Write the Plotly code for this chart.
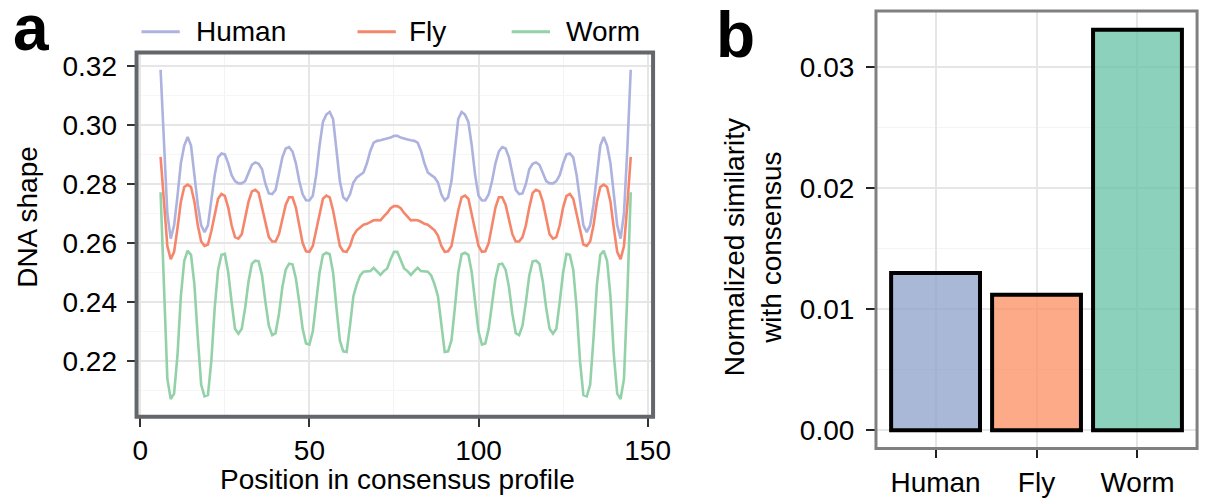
import plotly.graph_objects as go

W, H = 1219, 498

# ---------------- data ----------------
positions = list(range(6, 146))

human = [0.3187, 0.292, 0.270, 0.2615, 0.266, 0.276, 0.287, 0.293, 0.2959, 0.293,
         0.284, 0.273, 0.266, 0.2637, 0.266, 0.274, 0.283, 0.289, 0.2903, 0.2900,
         0.287, 0.283, 0.281, 0.2802, 0.2802, 0.281, 0.284, 0.2865, 0.2873, 0.2868,
         0.285, 0.280, 0.2768, 0.2766, 0.278, 0.283, 0.289, 0.292, 0.2925, 0.291,
         0.287, 0.281, 0.2765, 0.2745, 0.2744, 0.276, 0.283, 0.293, 0.301, 0.3035,
         0.3044, 0.302, 0.292, 0.281, 0.2755, 0.2744, 0.2765, 0.2805, 0.2822, 0.283,
         0.2839, 0.287, 0.2912, 0.2940, 0.2946, 0.2948, 0.2951, 0.2953, 0.2957, 0.2963,
         0.2963, 0.2957, 0.2953, 0.2951, 0.2948, 0.2946, 0.2940, 0.2912, 0.287, 0.2839,
         0.283, 0.2822, 0.2805, 0.2765, 0.2744, 0.2755, 0.281, 0.292, 0.302, 0.3044,
         0.3035, 0.301, 0.293, 0.283, 0.276, 0.2744, 0.2745, 0.2765, 0.281, 0.287,
         0.291, 0.2925, 0.292, 0.289, 0.283, 0.278, 0.2766, 0.2768, 0.280, 0.285,
         0.2868, 0.2873, 0.2865, 0.284, 0.281, 0.2802, 0.2802, 0.281, 0.283, 0.287,
         0.2900, 0.2903, 0.289, 0.283, 0.274, 0.266, 0.2637, 0.266, 0.273, 0.284,
         0.293, 0.2959, 0.293, 0.287, 0.276, 0.266, 0.2615, 0.270, 0.292, 0.3187]

fly = [0.2892, 0.273, 0.259, 0.2545, 0.257, 0.265, 0.274, 0.279, 0.2798, 0.279,
       0.274, 0.266, 0.2605, 0.2590, 0.2595, 0.264, 0.270, 0.275, 0.2766, 0.2760,
       0.272, 0.266, 0.262, 0.2615, 0.263, 0.268, 0.274, 0.2775, 0.2780, 0.277,
       0.272, 0.266, 0.262, 0.2605, 0.2605, 0.263, 0.268, 0.273, 0.2755, 0.2755,
       0.272, 0.266, 0.260, 0.2572, 0.2570, 0.259, 0.264, 0.270, 0.275, 0.2761,
       0.2755, 0.271, 0.265, 0.259, 0.2572, 0.2570, 0.259, 0.2625, 0.2643, 0.2652,
       0.2662, 0.2665, 0.2672, 0.2677, 0.2678, 0.2677, 0.2690, 0.2702, 0.2718, 0.2725,
       0.2725, 0.2718, 0.2702, 0.2690, 0.2677, 0.2678, 0.2677, 0.2672, 0.2665, 0.2662,
       0.2652, 0.2643, 0.2625, 0.259, 0.2570, 0.2572, 0.259, 0.265, 0.271, 0.2755,
       0.2761, 0.275, 0.270, 0.264, 0.259, 0.2570, 0.2572, 0.260, 0.266, 0.272,
       0.2755, 0.2755, 0.273, 0.268, 0.263, 0.2605, 0.2605, 0.262, 0.266, 0.272,
       0.277, 0.2780, 0.2775, 0.274, 0.268, 0.263, 0.2615, 0.262, 0.266, 0.272,
       0.2760, 0.2766, 0.275, 0.270, 0.264, 0.2595, 0.2590, 0.2605, 0.266, 0.274,
       0.279, 0.2798, 0.279, 0.274, 0.265, 0.257, 0.2545, 0.259, 0.273, 0.2892]

worm = [0.2772, 0.243, 0.214, 0.2072, 0.209, 0.222, 0.242, 0.254, 0.2574, 0.256,
        0.246, 0.228, 0.212, 0.2081, 0.2085, 0.220, 0.238, 0.251, 0.2560, 0.2563,
        0.250, 0.240, 0.231, 0.2293, 0.231, 0.238, 0.247, 0.2530, 0.2540, 0.2538,
        0.249, 0.240, 0.232, 0.2288, 0.2295, 0.236, 0.245, 0.251, 0.2530, 0.2528,
        0.248, 0.240, 0.231, 0.2260, 0.2256, 0.230, 0.240, 0.250, 0.2560, 0.2567,
        0.2562, 0.250, 0.238, 0.227, 0.2233, 0.2231, 0.232, 0.242, 0.2460, 0.2490,
        0.2503, 0.2503, 0.2505, 0.2516, 0.2505, 0.2492, 0.2505, 0.2514, 0.2545, 0.2570,
        0.2570, 0.2545, 0.2514, 0.2505, 0.2492, 0.2505, 0.2516, 0.2505, 0.2503, 0.2503,
        0.2490, 0.2460, 0.242, 0.232, 0.2231, 0.2233, 0.227, 0.238, 0.250, 0.2562,
        0.2567, 0.2560, 0.250, 0.240, 0.230, 0.2256, 0.2260, 0.231, 0.240, 0.248,
        0.2528, 0.2530, 0.251, 0.245, 0.236, 0.2295, 0.2288, 0.232, 0.240, 0.249,
        0.2538, 0.2540, 0.2530, 0.247, 0.238, 0.231, 0.2293, 0.231, 0.240, 0.250,
        0.2563, 0.2560, 0.251, 0.238, 0.220, 0.2085, 0.2081, 0.212, 0.228, 0.246,
        0.256, 0.2574, 0.254, 0.242, 0.222, 0.209, 0.2072, 0.214, 0.243, 0.2772]

species = ["Human", "Fly", "Worm"]
similarity = [0.0130, 0.0112, 0.0331]

x_ticks_a = [0, 50, 100, 150]
y_ticks_a = [0.22, 0.24, 0.26, 0.28, 0.30, 0.32]
y_ticks_b = [0.00, 0.01, 0.02, 0.03]

# ---------------- style ----------------
FONT = "Liberation Sans, Arial, Helvetica, sans-serif"
line_colors = ["#adb2de", "#f5866b", "#93d1a8"]
bar_colors = ["rgba(141,160,203,0.75)", "rgba(252,141,98,0.75)", "rgba(102,194,165,0.75)"]

def px_x(p):
    return p / W

def px_y(p):
    return 1 - p / H

fig = go.Figure()

for name, vals, col in zip(species, [human, fly, worm], line_colors):
    fig.add_trace(go.Scatter(x=positions, y=vals, mode="lines", name=name,
                             line=dict(color=col, width=2.6),
                             xaxis="x", yaxis="y", showlegend=False))

fig.add_trace(go.Bar(x=species, y=similarity, width=0.88,
                     marker=dict(color=bar_colors, line=dict(color="black", width=4)),
                     xaxis="x2", yaxis="y2", showlegend=False))

tickfont = dict(family=FONT, size=28, color="black")

fig.update_layout(
    width=W, height=H, autosize=False,
    margin=dict(l=0, r=0, t=0, b=0),
    paper_bgcolor="white", plot_bgcolor="white",
    font=dict(family=FONT, size=28, color="black"),
    xaxis=dict(domain=[px_x(135), px_x(661)], range=[-1.1, 151.6],
               tickvals=x_ticks_a, ticktext=[str(v) for v in x_ticks_a],
               ticks="outside", ticklen=9, tickwidth=2, tickcolor="#333333",
               showgrid=True, gridcolor="#e6e6e6", gridwidth=1.5,
               minor=dict(dtick=25, tick0=0, showgrid=True, gridcolor="#f3f3f3", gridwidth=1),
               zeroline=False, showline=False, tickfont=tickfont, anchor="y"),
    yaxis=dict(domain=[px_y(418), px_y(51)], range=[0.2012, 0.3245],
               tickvals=y_ticks_a, ticktext=["%.2f" % v for v in y_ticks_a],
               ticks="outside", ticklen=9, tickwidth=2, tickcolor="#333333",
               ticklabelstandoff=4,
               showgrid=True, gridcolor="#e6e6e6", gridwidth=1.5,
               minor=dict(dtick=0.01, tick0=0.21, showgrid=True, gridcolor="#f6f6f6", gridwidth=1),
               zeroline=False, showline=False, tickfont=tickfont, anchor="x"),
    xaxis2=dict(domain=[px_x(888), px_x(1215)], range=[-0.59, 2.59],
                type="category", categoryorder="array", categoryarray=species,
                ticks="outside", ticklen=9, tickwidth=2, tickcolor="#222222",
                showgrid=True, gridcolor="#e6e6e6", gridwidth=1.5,
                zeroline=False, showline=False, tickfont=tickfont, anchor="y2"),
    yaxis2=dict(domain=[px_y(450), px_y(9)], range=[-0.0015, 0.03465],
                tickvals=y_ticks_b, ticktext=["%.2f" % v for v in y_ticks_b],
                ticks="outside", ticklen=9, tickwidth=2, tickcolor="#222222",
                ticklabelstandoff=6,
                showgrid=True, gridcolor="#e6e6e6", gridwidth=1.5,
                minor=dict(dtick=0.005, tick0=0, showgrid=True, gridcolor="#f4f4f4", gridwidth=1),
                zeroline=False, showline=False, tickfont=tickfont, anchor="x2"),
)

# panel frames
fig.add_shape(type="rect", xref="x domain", yref="y domain", x0=0, x1=1, y0=0, y1=1,
              line=dict(color="#63676b", width=4), fillcolor="rgba(0,0,0,0)", layer="above")
fig.add_shape(type="rect", xref="x2 domain", yref="y2 domain", x0=0, x1=1, y0=0, y1=1,
              line=dict(color="#808080", width=3), fillcolor="rgba(0,0,0,0)", layer="above")

# legend (manual, top of panel a)
legend_items = [("Human", 140, 179, 193), ("Fly", 360, 399, 410), ("Worm", 517, 556, 570)]
for (label, lx0, lx1, tx), col in zip(legend_items, line_colors):
    fig.add_shape(type="line", xref="paper", yref="paper",
                  x0=px_x(lx0), x1=px_x(lx1), y0=px_y(30), y1=px_y(30),
                  line=dict(color=col, width=3))
    fig.add_annotation(text=label, xref="paper", yref="paper", x=px_x(tx), y=px_y(30),
                       xanchor="left", yanchor="middle", showarrow=False,
                       font=dict(family=FONT, size=28, color="black"))

# panel letters
fig.add_annotation(text="<b>a</b>", xref="paper", yref="paper", x=px_x(27), y=px_y(26),
                   xanchor="center", yanchor="middle", showarrow=False,
                   font=dict(family=FONT, size=64, color="black"))
fig.add_annotation(text="<b>b</b>", xref="paper", yref="paper", x=px_x(745), y=px_y(33),
                   xanchor="center", yanchor="middle", showarrow=False,
                   font=dict(family=FONT, size=64, color="black"))

# axis titles
fig.add_annotation(text="DNA shape", xref="paper", yref="paper", x=px_x(24), y=px_y(217),
                   xanchor="center", yanchor="middle", textangle=-90, showarrow=False,
                   font=dict(family=FONT, size=28, color="black"))
fig.add_annotation(text="Position in consensus profile", xref="paper", yref="paper",
                   x=px_x(401), y=px_y(481), xanchor="center", yanchor="middle",
                   showarrow=False, font=dict(family=FONT, size=28, color="black"))
fig.add_annotation(text="Normalized similarity<br>with consensus", xref="paper", yref="paper",
                   x=px_x(762), y=px_y(247), xanchor="center", yanchor="middle",
                   textangle=-90, showarrow=False,
                   font=dict(family=FONT, size=28, color="black"))

fig.write_html(
    "out.html",
    config={"displayModeBar": False, "responsive": False},
    post_script="document.body.style.margin='0';document.body.style.padding='0';"
                "document.documentElement.style.overflow='hidden';",
)
